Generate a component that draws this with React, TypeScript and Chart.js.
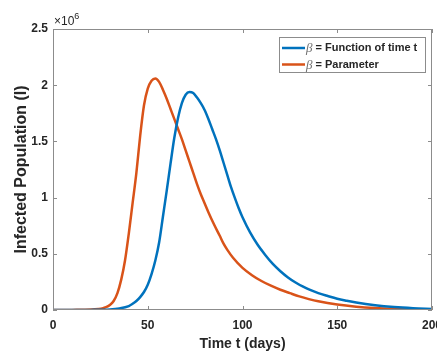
import React, { useEffect, useRef } from "react";
import { Chart, registerables } from "chart.js";

Chart.register(...registerables);

// Time (days) and infected population (in units of 10^6)
const paramT = [0, 10, 20, 24, 26, 28, 30, 32, 34, 36, 38, 40, 42, 44, 46, 48, 50, 52, 54, 56, 58, 60, 62, 64, 66, 68, 70, 72, 74, 76, 78, 80, 82, 85, 88, 90, 92, 95, 100, 105, 110, 115, 120, 125, 130, 135, 140, 150, 160, 170, 180, 190, 200];
const paramI = [0, 0.001, 0.004, 0.009, 0.014, 0.025, 0.045, 0.08, 0.15, 0.27, 0.44, 0.68, 0.95, 1.22, 1.55, 1.82, 1.97, 2.04, 2.06, 2.03, 1.96, 1.88, 1.79, 1.7, 1.61, 1.52, 1.42, 1.32, 1.22, 1.12, 1.03, 0.95, 0.87, 0.76, 0.66, 0.59, 0.535, 0.465, 0.375, 0.31, 0.258, 0.216, 0.18, 0.15, 0.121, 0.097, 0.077, 0.048, 0.029, 0.017, 0.01, 0.006, 0.004];

const funcT = [0, 20, 30, 35, 40, 42, 44, 46, 48, 50, 52, 54, 56, 58, 60, 62, 64, 66, 68, 70, 72, 74, 76, 78, 80, 82, 84, 86, 88, 90, 92, 94, 96, 98, 100, 104, 108, 112, 116, 120, 124, 128, 132, 136, 140, 145, 150, 155, 160, 170, 180, 190, 200];
const funcI = [0, 0.001, 0.005, 0.014, 0.035, 0.055, 0.08, 0.115, 0.16, 0.225, 0.32, 0.44, 0.6, 0.83, 1.06, 1.3, 1.53, 1.71, 1.84, 1.915, 1.94, 1.93, 1.89, 1.84, 1.78, 1.7, 1.61, 1.52, 1.42, 1.31, 1.2, 1.09, 0.995, 0.905, 0.825, 0.69, 0.58, 0.49, 0.41, 0.345, 0.29, 0.245, 0.207, 0.176, 0.15, 0.124, 0.1, 0.082, 0.066, 0.042, 0.026, 0.016, 0.01];

const seriesLabels = ["= Function of time t", "= Parameter"];
const seriesColors = ["#0072BD", "#D95319"];
const xTicks = [0, 50, 100, 150, 200];
const yTicks = [0, 0.5, 1, 1.5, 2, 2.5];

const FONT = "'Liberation Sans', Arial, sans-serif";
const TEXT = "#262626";

const framePlugin = {
  id: "matlabFrame",
  afterDraw(chart: any) {
    const { ctx, chartArea: a, scales } = chart;
    ctx.save();
    ctx.strokeStyle = "#8c8c8c";
    ctx.lineWidth = 1;
    ctx.strokeRect(a.left + 0.5, a.top + 0.5, a.right - a.left - 1, a.bottom - a.top - 1);
    const tl = 4;
    ctx.beginPath();
    for (const v of xTicks) {
      const px = Math.round(scales.x.getPixelForValue(v)) + 0.5;
      ctx.moveTo(px, a.bottom);
      ctx.lineTo(px, a.bottom - tl);
      ctx.moveTo(px, a.top);
      ctx.lineTo(px, a.top + tl);
    }
    for (const v of yTicks) {
      const py = Math.round(scales.y.getPixelForValue(v)) + 0.5;
      ctx.moveTo(a.left, py);
      ctx.lineTo(a.left + tl, py);
      ctx.moveTo(a.right, py);
      ctx.lineTo(a.right - tl, py);
    }
    ctx.stroke();

    // exponent label
    ctx.fillStyle = TEXT;
    ctx.textBaseline = "alphabetic";
    ctx.textAlign = "left";
    ctx.font = `12px ${FONT}`;
    ctx.fillText("×10", a.left + 1, a.top - 4);
    const w = ctx.measureText("×10").width;
    ctx.font = `9px ${FONT}`;
    ctx.fillText("6", a.left + 1 + w, a.top - 10);

    // legend
    const lx = 279, ly = 37, lw = 146, lh = 35;
    ctx.fillStyle = "#ffffff";
    ctx.fillRect(lx, ly, lw, lh);
    ctx.strokeStyle = "#8c8c8c";
    ctx.lineWidth = 1;
    ctx.strokeRect(lx + 0.5, ly + 0.5, lw, lh);
    chart.data.datasets.forEach((ds: any, i: number) => {
      const cy = ly + 11 + i * 16.5;
      ctx.strokeStyle = ds.borderColor;
      ctx.lineWidth = 2.5;
      ctx.beginPath();
      ctx.moveTo(lx + 3, cy);
      ctx.lineTo(lx + 26, cy);
      ctx.stroke();
      ctx.textBaseline = "middle";
      ctx.font = `italic 13px 'Liberation Serif', 'DejaVu Serif', serif`;
      ctx.fillStyle = "#707070";
      ctx.fillText("β", lx + 27, cy + 1);
      const bw = ctx.measureText("β").width;
      ctx.font = `bold 11px ${FONT}`;
      ctx.fillStyle = TEXT;
      ctx.fillText(" " + ds.label, lx + 27 + bw, cy);
    });
    ctx.restore();
  },
};

export default function App() {
  const ref = useRef<HTMLCanvasElement | null>(null);
  useEffect(() => {
    document.body.style.margin = "0";
    const ctx = ref.current!.getContext("2d")!;
    const chart = new Chart(ctx, {
      type: "line",
      data: {
        datasets: [
          {
            label: seriesLabels[0],
            data: funcT.map((t, i) => ({ x: t, y: funcI[i] })),
            borderColor: seriesColors[0],
            borderWidth: 2.5,
            pointRadius: 0,
            cubicInterpolationMode: "monotone",
            fill: false,
          },
          {
            label: seriesLabels[1],
            data: paramT.map((t, i) => ({ x: t, y: paramI[i] })),
            borderColor: seriesColors[1],
            borderWidth: 2.5,
            pointRadius: 0,
            cubicInterpolationMode: "monotone",
            fill: false,
          },
        ],
      },
      options: {
        animation: false,
        responsive: false,
        maintainAspectRatio: false,
        layout: { padding: { top: 29, right: 5, left: 0, bottom: 0 } },
        plugins: { legend: { display: false }, tooltip: { enabled: false } },
        scales: {
          x: {
            type: "linear",
            min: 0,
            max: 200,
            grid: { display: false, drawTicks: false },
            border: { display: false },
            afterBuildTicks: (s: any) => {
              s.ticks = xTicks.map((v) => ({ value: v }));
            },
            afterFit: (s: any) => {
              s.height = 44;
              s.paddingLeft = 0;
              s.paddingRight = 0;
            },
            ticks: {
              padding: 8,
              color: TEXT,
              font: { family: FONT, size: 12, weight: "bold" },
              maxRotation: 0,
            },
            title: {
              display: true,
              text: "Time t (days)",
              color: TEXT,
              font: { family: FONT, size: 14, weight: "bold" },
              padding: { top: 0, bottom: 1 },
            },
          },
          y: {
            type: "linear",
            min: 0,
            max: 2.5,
            grid: { display: false, drawTicks: false },
            border: { display: false },
            afterBuildTicks: (s: any) => {
              s.ticks = yTicks.map((v) => ({ value: v }));
            },
            afterFit: (s: any) => {
              s.width = 53;
              s.paddingTop = 0;
              s.paddingBottom = 0;
            },
            ticks: {
              padding: 5,
              color: TEXT,
              font: { family: FONT, size: 12, weight: "bold" },
              callback: (v: any) => String(v),
            },
            title: {
              display: true,
              text: "Infected Population (I)",
              color: TEXT,
              font: { family: FONT, size: 16, weight: "bold" },
              padding: { top: 12, bottom: 0 },
            },
          },
        },
      },
      plugins: [framePlugin],
    });
    return () => chart.destroy();
  }, []);
  return (
    <div style={{ position: "fixed", left: 0, top: 0, width: 437, height: 354, background: "#fff" }}>
      <canvas ref={ref} width={437} height={354} style={{ display: "block" }} />
    </div>
  );
}
